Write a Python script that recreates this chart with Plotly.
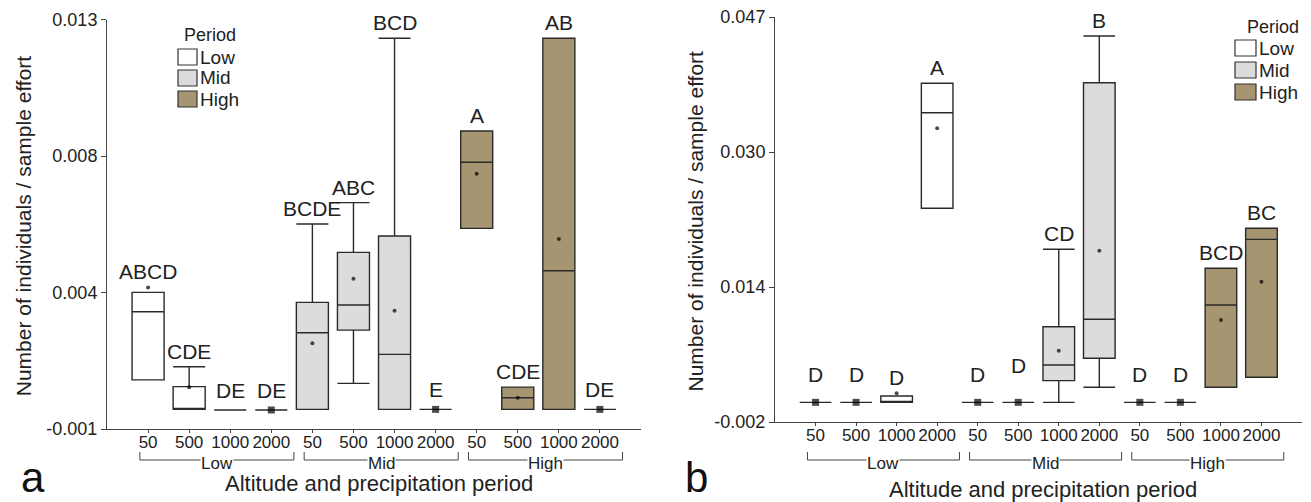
import plotly.graph_objects as go

W, H = 1311, 502
FONT = "Liberation Sans, Arial, sans-serif"
INK = "#222222"

altitudes = ["50", "500", "1000", "2000"]
periods = ["Low", "Mid", "High"]
period_colors = ["#ffffff", "#dcdcdc", "#a69571"]

# ---------- panel a ----------
a_q1 = [0.00068, -0.00033, -0.00035, -0.00035, -0.00033, 0.00238, -0.00033, -0.00033, 0.00586, -0.00033, -0.00033, -0.00033]
a_median = [0.00301, -0.00033, -0.00035, -0.00035, 0.00229, 0.00324, 0.00155, -0.00033, 0.00812, 0.00007, 0.00441, -0.00033]
a_q3 = [0.00367, 0.00045, -0.00035, -0.00035, 0.00333, 0.00504, 0.00560, -0.00033, 0.00919, 0.00043, 0.01236, -0.00033]
a_lower = [0.00068, -0.00033, -0.00035, -0.00035, -0.00033, 0.00056, -0.00033, -0.00033, 0.00586, -0.00033, -0.00033, -0.00033]
a_upper = [0.00367, 0.00113, -0.00035, -0.00035, 0.00601, 0.00674, 0.01236, -0.00033, 0.00919, 0.00043, 0.01236, -0.00033]
a_mean = [0.00384, 0.00043, None, -0.00035, 0.00193, 0.00414, 0.00304, -0.00033, 0.00773, 0.00007, 0.00550, -0.00033]
a_letters = ["ABCD", "CDE", "DE", "DE", "BCDE", "ABC", "BCD", "E", "A", "CDE", "AB", "DE"]
a_outliers = [None] * 12
a_tickvals_text = ["-0.001", "0.004", "0.008", "0.013"]
a_range = [-0.001, 0.013]

# ---------- panel b ----------
b_q1 = [0.00038, 0.00038, 0.00038, 0.02386, 0.00038, 0.00038, 0.00300, 0.00571, 0.00038, 0.00038, 0.00220, 0.00341]
b_median = [0.00038, 0.00038, 0.00038, 0.03542, 0.00038, 0.00038, 0.00490, 0.01043, 0.00038, 0.00038, 0.01216, 0.02010]
b_q3 = [0.00038, 0.00038, 0.00115, 0.03898, 0.00038, 0.00038, 0.00953, 0.03905, 0.00038, 0.00038, 0.01660, 0.02144]
b_lower = [0.00038, 0.00038, 0.00038, 0.02386, 0.00038, 0.00038, 0.00038, 0.00220, 0.00038, 0.00038, 0.00220, 0.00341]
b_upper = [0.00038, 0.00038, 0.00115, 0.03898, 0.00038, 0.00038, 0.01890, 0.04470, 0.00038, 0.00038, 0.01660, 0.02144]
b_mean = [0.00038, 0.00038, 0.00147, 0.03353, 0.00038, 0.00038, 0.00663, 0.01873, 0.00038, 0.00038, 0.01034, 0.01498]
b_letters = ["D", "D", "D", "A", "D", "D", "CD", "B", "D", "D", "BCD", "BC"]
b_outliers = [None, None, None, None, None, 0.00155, None, None, None, None, None, None]
b_tickvals_text = ["-0.002", "0.014", "0.030", "0.047"]
b_range = [-0.002, 0.047]

x_title = "Altitude and precipitation period"
y_title = "Number of individuals / sample effort"

# layout geometry (pixels)
panels = [
    dict(q1=a_q1, med=a_median, q3=a_q3, lo=a_lower, hi=a_upper, mean=a_mean,
         letters=a_letters, out=a_outliers, ticktext=a_tickvals_text, yr=a_range,
         px=(107, 641), py=(19.5, 429), tag="a", flat_shift=6,
         ytitle_x=23, xtitle=(379, 483), letter_pos=(33, 477),
         legend=dict(title=(210, 35), sw_x=(178, 197), rows=[57, 78, 99], sh=16)),
    dict(q1=b_q1, med=b_median, q3=b_q3, lo=b_lower, hi=b_upper, mean=b_mean,
         letters=b_letters, out=b_outliers, ticktext=b_tickvals_text, yr=b_range,
         px=(775, 1302), py=(17, 422), tag="b", flat_shift=14,
         ytitle_x=695, xtitle=(1043, 489), letter_pos=(697, 477),
         legend=dict(title=(1273, 27), sw_x=(1235, 1256), rows=[48, 70, 92], sh=16)),
]

def fx(px):
    return px / W

def fy(py):
    return 1 - py / H

fig = go.Figure()
shapes = []
annotations = []
positions = list(range(1, 13))

def txt(**kw):
    base = dict(showarrow=False, xanchor="center", yanchor="middle")
    base.update(kw)
    return base

for pi, P in enumerate(panels):
    xa = "x" if pi == 0 else "x2"
    ya = "y" if pi == 0 else "y2"
    for g, per in enumerate(periods):
        idx = list(range(4 * g, 4 * g + 4))
        fig.add_trace(go.Box(
            x=[positions[i] for i in idx],
            q1=[P["q1"][i] for i in idx],
            median=[P["med"][i] for i in idx],
            q3=[P["q3"][i] for i in idx],
            lowerfence=[P["lo"][i] for i in idx],
            upperfence=[P["hi"][i] for i in idx],
            boxpoints=False,
            width=0.78,
            whiskerwidth=1,
            fillcolor=period_colors[g],
            line=dict(color="#2a2a2a", width=1.4),
            name=per,
            showlegend=False,
            xaxis=xa, yaxis=ya,
        ))
    # mean markers
    mx, my, msym, msize = [], [], [], []
    for i in range(12):
        m = P["mean"][i]
        if m is None:
            continue
        flat = P["q1"][i] == P["q3"][i]
        mx.append(positions[i])
        my.append(m)
        msym.append("square" if flat else "circle")
        msize.append(7 if flat else 4)
    fig.add_trace(go.Scatter(x=mx, y=my, mode="markers",
                             marker=dict(color="#000000", symbol=msym, size=msize, line=dict(width=0)),
                             showlegend=False, xaxis=xa, yaxis=ya))
    # outliers
    ox = [positions[i] for i in range(12) if P["out"][i] is not None]
    oy = [P["out"][i] for i in range(12) if P["out"][i] is not None]
    if ox:
        fig.add_trace(go.Scatter(x=ox, y=oy, mode="markers",
                                 marker=dict(color="rgba(0,0,0,0)", symbol="circle-open", size=6,
                                             line=dict(color="#444444", width=1.2)),
                                 showlegend=False, xaxis=xa, yaxis=ya))
    # letters
    for i in range(12):
        cand = [P["q3"][i], P["hi"][i]]
        if P["mean"][i] is not None:
            cand.append(P["mean"][i])
        if P["out"][i] is not None:
            cand.append(P["out"][i])
        top = max(cand)
        flat = P["q1"][i] == P["q3"][i]
        annotations.append(txt(x=positions[i], y=top, xref=xa, yref=ya, text=P["letters"][i],
                               yanchor="bottom",
                               yshift=P["flat_shift"] if flat else 2,
                               font=dict(family=FONT, size=21, color=INK)))
    # group brackets and labels
    yv, yh = fy(452), fy(460)
    for g, per in enumerate(periods):
        x0, x1 = 4 * g + 0.8, 4 * g + 4.55
        shapes.append(dict(type="path", xref=xa, yref="paper",
                           path=f"M {x0},{yv} L {x0},{yh} L {x1},{yh} L {x1},{yv}",
                           line=dict(color="#444444", width=1)))
        annotations.append(txt(x=(x0 + x1) / 2, y=fy(463), xref=xa, yref="paper", text=per,
                               bgcolor="#ffffff", borderpad=0,
                               font=dict(family=FONT, size=17, color=INK)))
    # axis titles
    annotations.append(txt(x=fx(P["ytitle_x"]), y=fy((P["py"][0] + P["py"][1]) / 2 + 2),
                           xref="paper", yref="paper", text=y_title, textangle=-90,
                           font=dict(family=FONT, size=21, color=INK)))
    annotations.append(txt(x=fx(P["xtitle"][0]), y=fy(P["xtitle"][1]), xref="paper", yref="paper",
                           text=x_title, font=dict(family=FONT, size=22, color=INK)))
    annotations.append(txt(x=fx(P["letter_pos"][0]), y=fy(P["letter_pos"][1]), xref="paper", yref="paper",
                           text=P["tag"], font=dict(family=FONT, size=42, color="#111111")))
    # legend
    L = P["legend"]
    annotations.append(txt(x=fx(L["title"][0]), y=fy(L["title"][1]), xref="paper", yref="paper",
                           text="Period", font=dict(family=FONT, size=18, color=INK)))
    for g, per in enumerate(periods):
        cy = L["rows"][g]
        shapes.append(dict(type="rect", xref="paper", yref="paper",
                           x0=fx(L["sw_x"][0]), x1=fx(L["sw_x"][1]),
                           y0=fy(cy + L["sh"] / 2), y1=fy(cy - L["sh"] / 2),
                           fillcolor=period_colors[g], line=dict(color="#333333", width=1.2)))
        annotations.append(txt(x=fx(L["sw_x"][1] + 1), y=fy(cy), xref="paper", yref="paper",
                               text=per, xanchor="left",
                               font=dict(family=FONT, size=19, color=INK)))

def yaxis_cfg(P):
    lo, hi = P["yr"]
    step = (hi - lo) / 3
    return dict(domain=[fy(P["py"][1]), fy(P["py"][0])], range=[lo, hi],
                tickvals=[lo + k * step for k in range(4)], ticktext=P["ticktext"],
                ticks="outside", ticklen=5, tickcolor="#444444", showline=True,
                linecolor="#444444", linewidth=1, showgrid=False, zeroline=False,
                automargin=False,
                tickfont=dict(family=FONT, size=18, color=INK))

def xaxis_cfg(P, anchor):
    return dict(domain=[fx(P["px"][0]), fx(P["px"][1])], range=[0, 13], anchor=anchor,
                tickvals=positions, ticktext=altitudes * 3, ticks="outside", ticklen=3,
                ticklabelstandoff=-5,
                tickcolor="#444444", showline=True, linecolor="#444444", linewidth=1,
                showgrid=False, zeroline=False, automargin=False,
                tickfont=dict(family=FONT, size=17, color=INK))

fig.update_layout(
    width=W, height=H,
    autosize=False,
    margin=dict(l=0, r=0, t=0, b=0, pad=0, autoexpand=False),
    paper_bgcolor="#ffffff", plot_bgcolor="#ffffff",
    showlegend=False,
    boxmode="overlay",
    xaxis=xaxis_cfg(panels[0], "y"),
    yaxis=dict(yaxis_cfg(panels[0]), anchor="x"),
    xaxis2=xaxis_cfg(panels[1], "y2"),
    yaxis2=dict(yaxis_cfg(panels[1]), anchor="x2"),
    shapes=shapes,
    annotations=annotations,
)

fig.write_html("out.html", post_script="document.body.style.margin='0';")
